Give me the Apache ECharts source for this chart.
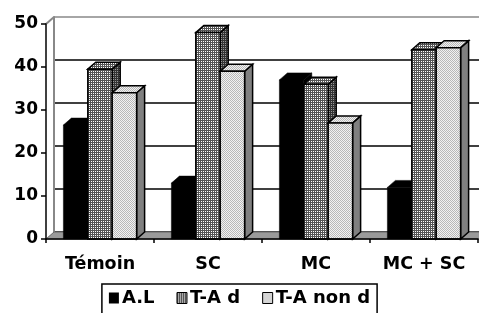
<!DOCTYPE html>
<html>
<head>
<meta charset="UTF-8">
<title>chart</title>
<style>
  html, body { margin: 0; padding: 0; background: #fff; }
  #main { width: 479px; height: 313px; }
</style>
</head>
<body>
<div id="main"></div>
<script src="https://cdn.jsdelivr.net/npm/echarts@6/dist/echarts.min.js"></script>
<script type="text/javascript">
    // données
    let categories = ['Témoin', 'SC', 'MC', 'MC + SC'];
    let seriesNames = ['A.L', 'T-A d', 'T-A non d'];
    let valAL = [26.5, 13, 37, 12];
    let valTAd = [39.5, 48, 36, 44];
    let valTAnond = [34, 39, 27, 44.5];
    let yTicks = [0, 10, 20, 30, 40, 50];

    const DX = 8, DY = -7;
    const FONT = 'DejaVu Sans';

    // motifs (trame) façon Excel
    function makePattern(size, draw) {
        let c = document.createElement('canvas');
        c.width = size; c.height = size;
        let ctx = c.getContext('2d');
        draw(ctx);
        return { type: 'pattern', image: c, repeat: 'repeat' };
    }
    let gridPat = makePattern(2, function (ctx) {
        ctx.fillStyle = '#555'; ctx.fillRect(0, 0, 2, 2);
        ctx.fillStyle = '#fff'; ctx.fillRect(1, 1, 1, 1);
    });
    let gridPatDark = makePattern(2, function (ctx) {
        ctx.fillStyle = '#333'; ctx.fillRect(0, 0, 2, 2);
        ctx.fillStyle = '#999'; ctx.fillRect(1, 1, 1, 1);
    });
    let dotPat = makePattern(2, function (ctx) {
        ctx.fillStyle = '#f2f2f2'; ctx.fillRect(0, 0, 2, 2);
        ctx.fillStyle = '#b8b8b8'; ctx.fillRect(0, 0, 1, 1); ctx.fillRect(1, 1, 1, 1);
    });

    let faces = [
        { front: '#000', top: '#000', side: '#000', stroke: '#000' },
        { front: gridPat, top: gridPat, side: gridPatDark, stroke: '#000' },
        { front: dotPat, top: dotPat, side: '#808080', stroke: '#000' }
    ];

    function barRender(s) {
        return function (params, api) {
            let i = api.value(0), v = api.value(1);
            let b = api.coord([i, 0]);
            let t = api.coord([i, v]);
            let band = api.size([1, 0])[0];
            let bw = band * 0.226;
            let x0 = b[0] - 1.5 * bw + s * bw, x1 = x0 + bw;
            let y0 = b[1], y1 = t[1];
            let f = faces[s];
            let lw = s === 0 ? 0.5 : 1.5;
            return {
                type: 'group',
                children: [
                    { type: 'polygon', shape: { points: [[x1, y1], [x1 + DX, y1 + DY], [x1 + DX, y0 + DY], [x1, y0]] },
                      style: { fill: f.side, stroke: f.stroke, lineWidth: lw } },
                    { type: 'polygon', shape: { points: [[x0, y1], [x0 + DX, y1 + DY], [x1 + DX, y1 + DY], [x1, y1]] },
                      style: { fill: f.top, stroke: f.stroke, lineWidth: lw } },
                    { type: 'polygon', shape: { points: [[x0, y1], [x1, y1], [x1, y0], [x0, y0]] },
                      style: { fill: f.front, stroke: f.stroke, lineWidth: lw } }
                ]
            };
        };
    }

    // sol + arêtes du mur
    function floorRender(params, api) {
        let band = api.size([1, 0])[0];
        let p0 = api.coord([0, 0]);
        let pN = api.coord([categories.length - 1, 0]);
        let pT = api.coord([0, yTicks[yTicks.length - 1]]);
        let L = p0[0] - band / 2, R = pN[0] + band / 2 + 20;
        let y0 = p0[1], yT = pT[1];
        return {
            type: 'group',
            children: [
                { type: 'polygon', shape: { points: [[L, y0], [R, y0], [R + DX, y0 + DY], [L + DX, y0 + DY]] },
                  style: { fill: '#9a9a9a', stroke: '#666', lineWidth: 1 } },
                { type: 'line', shape: { x1: L, y1: yT, x2: L + DX, y2: yT + DY },
                  style: { stroke: '#888', lineWidth: 2 } }
            ]
        };
    }

    let myChart = echarts.init(document.getElementById('main'));

    let mkData = function (arr) { return arr.map(function (v, i) { return [i, v]; }); };
    let allVals = [valAL, valTAd, valTAnond];

    let series = [{
        type: 'custom', name: 'floor', xAxisIndex: 0, yAxisIndex: 0,
        renderItem: floorRender, data: [[0, 0]], z: 1, silent: true, clip: false
    }];
    for (let s = 0; s < 3; s++) {
        series.push({
            type: 'custom', name: seriesNames[s], xAxisIndex: 0, yAxisIndex: 0,
            renderItem: barRender(s), data: mkData(allVals[s]), z: 3 + s,
            encode: { x: 0, y: 1 }, clip: false,
            itemStyle: { color: s === 0 ? '#000' : faces[s].front }
        });
    }

    myChart.setOption({
        animation: false,
        grid: [
            { left: 46, right: 1, top: 24, bottom: 74, z: 3 },
            { left: 46 + DX, right: -10, top: 24 + DY, bottom: 74 - DY, z: 0 }
        ],
        xAxis: [{
            gridIndex: 0, type: 'category', data: categories,
            axisLine: { lineStyle: { color: '#000', width: 1.5 } },
            axisTick: { show: true, length: 4, lineStyle: { color: '#000', width: 1.5 } },
            axisLabel: { color: '#000', fontFamily: FONT, fontWeight: 'bold', fontSize: 17.5, margin: 16 },
            z: 10
        }, {
            gridIndex: 1, type: 'category', data: categories, show: false
        }],
        yAxis: [{
            gridIndex: 0, type: 'value', min: 0, max: 50, interval: 10,
            axisLine: { show: true, lineStyle: { color: '#000', width: 1.5 } },
            axisTick: { show: true, length: 5, lineStyle: { color: '#000', width: 1.5 } },
            axisLabel: { color: '#000', fontFamily: FONT, fontWeight: 'bold', fontSize: 17, margin: 8 },
            splitLine: { show: false },
            z: 10
        }, {
            gridIndex: 1, type: 'value', min: 0, max: 50, interval: 10,
            axisLine: { show: true, lineStyle: { color: '#888', width: 2 } },
            axisTick: { show: false },
            axisLabel: { show: false },
            splitLine: { show: true, lineStyle: { color: ['#000', '#000', '#000', '#000', '#000', '#888'], width: 1.5 } }
        }],
        legend: {
            data: seriesNames.map(function (n, s) {
                return { name: n, itemStyle: { color: faces[s].front, borderColor: '#000', borderWidth: s === 0 ? 0 : 1 } };
            }),
            left: 'center', top: 284,
            icon: 'rect', itemWidth: 10, itemHeight: 11, itemGap: 22,
            borderColor: '#000', borderWidth: 1.5, borderRadius: 0,
            padding: [5, 7, 12, 7],
            textStyle: { color: '#000', fontFamily: FONT, fontWeight: 'bold', fontSize: 18, padding: [0, 0, 0, -2] }
        },
        series: series
    });
</script>
</body>
</html>
